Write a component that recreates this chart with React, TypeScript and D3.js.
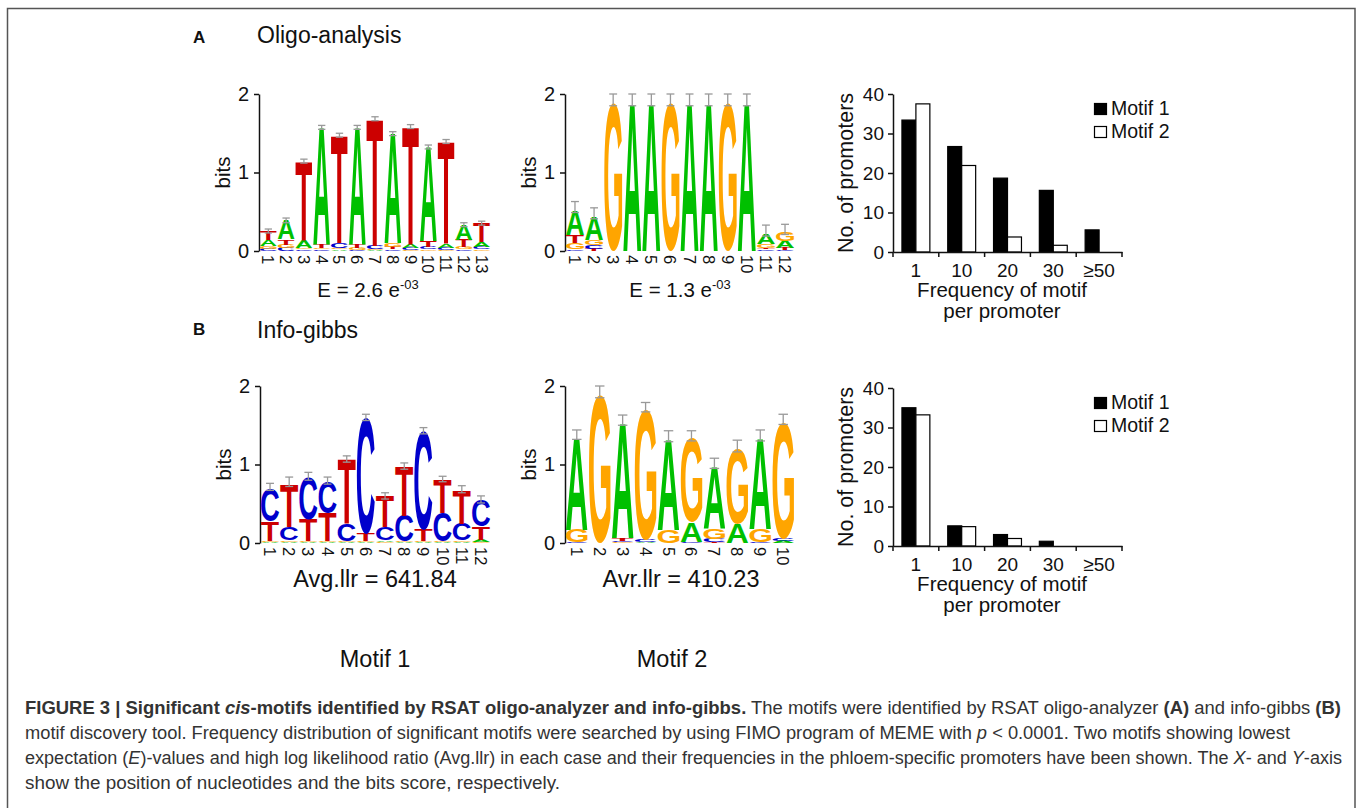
import React, { useEffect, useRef } from "react";
import * as d3 from "d3";

const FONT = "'Liberation Sans', Arial, Helvetica, sans-serif";
const BASES = ["A", "C", "G", "T"];
const baseColor: Record<string, string> = { A: "#00c000", C: "#0000cc", G: "#ffa500", T: "#cc0000" };

// A - oligo-analysis, motif 1 (bits per base and position)
const oligo1A = [0.08, 0.24, 0.10, 1.50, 0.02, 1.50, 0.01, 1.40, 0.04, 1.20, 0.05, 0.20, 0.07];
const oligo1C = [0.03, 0.04, 0.02, 0.02, 0.06, 0.01, 0.04, 0.02, 0.03, 0.03, 0.03, 0.02, 0.03];
const oligo1G = [0.03, 0.04, 0.02, 0.02, 0.02, 0.03, 0.02, 0.05, 0.01, 0.02, 0.01, 0.03, 0.02];
const oligo1T = [0.12, 0.07, 1.01, 0.04, 1.38, 0.04, 1.62, 0.03, 1.51, 0.08, 1.31, 0.09, 0.24];
const oligo1Err = [0.28, 0.42, 1.17, 1.60, 1.50, 1.60, 1.71, 1.52, 1.61, 1.35, 1.42, 0.36, 0.38];

// A - oligo-analysis, motif 2
const oligo2A = [0.32, 0.30, 0, 1.88, 1.88, 0, 1.88, 1.88, 0, 1.88, 0.13, 0.09];
const oligo2C = [0.02, 0.05, 0, 0, 0, 0, 0, 0, 0, 0, 0.02, 0.01];
const oligo2G = [0.08, 0.06, 1.88, 0, 0, 1.88, 0, 0, 1.88, 0, 0.05, 0.11];
const oligo2T = [0.10, 0.03, 0, 0, 0, 0, 0, 0, 0, 0, 0.02, 0.03];
const oligo2Err = [0.63, 0.55, 2.0, 2.0, 2.0, 2.0, 2.0, 2.0, 2.0, 2.0, 0.33, 0.34];

// B - info-gibbs, motif 1
const gibbs1A = [0.01, 0.01, 0.01, 0.01, 0.01, 0.01, 0.02, 0.01, 0.01, 0.01, 0.01, 0.03];
const gibbs1C = [0.42, 0.17, 0.53, 0.40, 0.22, 1.47, 0.17, 0.33, 1.26, 0.36, 0.21, 0.33];
const gibbs1G = [0.02, 0.02, 0.01, 0.01, 0.01, 0.01, 0.01, 0.01, 0.01, 0.01, 0.02, 0.01];
const gibbs1T = [0.25, 0.55, 0.28, 0.36, 0.82, 0.10, 0.39, 0.62, 0.14, 0.43, 0.43, 0.17];
const gibbs1Err = [0.76, 0.84, 0.90, 0.84, 1.11, 1.64, 0.64, 1.02, 1.47, 0.85, 0.73, 0.60];

// B - info-gibbs, motif 2
const gibbs2A = [1.18, 0, 1.47, 0.01, 1.16, 0.25, 0.80, 0.24, 1.15, 0.03];
const gibbs2C = [0.01, 0, 0.02, 0.03, 0, 0.01, 0.04, 0, 0.01, 0.03];
const gibbs2G = [0.16, 1.88, 0.01, 1.66, 0.16, 1.07, 0.13, 0.95, 0.17, 1.48];
const gibbs2T = [0, 0, 0.03, 0, 0, 0, 0.01, 0, 0, 0];
const gibbs2Err = [1.44, 2.0, 1.63, 1.79, 1.43, 1.43, 1.08, 1.31, 1.44, 1.64];

// frequency of motif per promoter
const freqCategories = ["1", "10", "20", "30", "≥50"];
const seriesNames = ["Motif 1", "Motif 2"];
const oligoMotif1 = [33.4, 26.7, 18.7, 15.6, 5.6];
const oligoMotif2 = [37.5, 21.9, 3.8, 1.7, 0];
const gibbsMotif1 = [35.0, 5.1, 2.9, 1.2, 0];
const gibbsMotif2 = [33.2, 4.9, 1.9, 0, 0];

type Sel = d3.Selection<SVGSVGElement, unknown, null, undefined>;
type Box = { l: number; r: number; a: number; d: number };

function measureGlyphs(): Record<string, Box> {
  const ctx = document.createElement("canvas").getContext("2d")!;
  ctx.font = `bold 100px ${FONT}`;
  const out: Record<string, Box> = {};
  BASES.forEach(b => {
    const m = ctx.measureText(b);
    out[b] = { l: m.actualBoundingBoxLeft, r: m.actualBoundingBoxRight, a: m.actualBoundingBoxAscent, d: m.actualBoundingBoxDescent };
  });
  return out;
}

function drawLogo(svg: Sel, glyph: Record<string, Box>, left: number, right: number, top: number, bottom: number,
  cols: Record<string, number[]>, err: number[]) {
  const n = err.length;
  const x = d3.scaleBand<number>().domain(d3.range(1, n + 1)).range([left + 1, right]).paddingInner(0.06);
  const y = d3.scaleLinear().domain([0, 2]).range([bottom, top]);
  const g = svg.append("g");

  const ax = g.append("g").attr("transform", `translate(${left},0)`)
    .call(d3.axisLeft(y).tickValues([0, 1, 2]).tickFormat(d3.format("d")).tickSize(5).tickPadding(5).tickSizeOuter(0));
  ax.attr("font-family", FONT).attr("font-size", 20);
  ax.selectAll("path,line").attr("stroke", "#111").attr("stroke-width", 1.5);
  ax.selectAll("text").attr("fill", "#111");

  g.append("text").attr("transform", `translate(${left - 37},${(top + bottom) / 2}) rotate(-90)`)
    .attr("text-anchor", "middle").attr("dominant-baseline", "central")
    .attr("font-family", FONT).attr("font-size", 20.5).attr("fill", "#111").text("bits");

  d3.range(n).forEach(i => {
    const stack = BASES.map(b => ({ b, v: cols[b][i] })).filter(s => s.v > 0).sort((a, b) => a.v - b.v);
    const x0 = x(i + 1)!;
    const bw = x.bandwidth();
    let acc = 0;
    stack.forEach(s => {
      const y0 = y(acc);
      const y1 = y(acc + s.v);
      acc += s.v;
      const gb = glyph[s.b];
      const sx = bw / (gb.l + gb.r);
      const sy = (y0 - y1) / (gb.a + gb.d);
      g.append("text").text(s.b)
        .attr("font-family", FONT).attr("font-weight", "bold").attr("font-size", 100)
        .attr("fill", baseColor[s.b])
        .attr("transform", `translate(${x0 + gb.l * sx},${y0 - gb.d * sy}) scale(${sx},${sy})`);
    });
    // error bar
    const cx = x0 + bw / 2;
    const hw = bw * 0.22;
    const eg = g.append("g").attr("stroke", "#999").attr("stroke-width", 1.3);
    const lo = y(acc - 0.03), hi = y(err[i]);
    eg.append("line").attr("x1", cx).attr("x2", cx).attr("y1", lo).attr("y2", hi);
    eg.append("line").attr("x1", cx - hw).attr("x2", cx + hw).attr("y1", lo).attr("y2", lo);
    eg.append("line").attr("x1", cx - hw).attr("x2", cx + hw).attr("y1", hi).attr("y2", hi);

    g.append("text").attr("transform", `translate(${cx},${bottom + 4}) rotate(90)`)
      .attr("dominant-baseline", "central").attr("font-family", FONT).attr("font-size", 16.5)
      .attr("fill", "#111").text(i + 1);
  });
}

function drawFreq(svg: Sel, top: number, m1: number[], m2: number[]) {
  const left = 893, right = 1122, bottom = top + 158;
  const x = d3.scaleBand<string>().domain(freqCategories).range([left, right]);
  const xs = d3.scaleBand<string>().domain(seriesNames).range([0, x.bandwidth()]).paddingOuter(0.64);
  const y = d3.scaleLinear().domain([0, 40]).range([bottom, top]);
  const g = svg.append("g");
  const rows = freqCategories.map((c, i) => ({ c, v: [m1[i], m2[i]] }));

  rows.forEach(r => {
    seriesNames.forEach((s, k) => {
      if (r.v[k] <= 0) return;
      g.append("rect")
        .attr("x", x(r.c)! + xs(s)!)
        .attr("y", y(r.v[k]))
        .attr("width", xs.bandwidth())
        .attr("height", bottom - y(r.v[k]))
        .attr("fill", k === 0 ? "#000" : "#fff")
        .attr("stroke", "#000").attr("stroke-width", 1.2);
    });
  });

  const ay = g.append("g").attr("transform", `translate(${left},0)`)
    .call(d3.axisLeft(y).tickValues([0, 10, 20, 30, 40]).tickSize(5).tickPadding(4).tickSizeOuter(0));
  ay.attr("font-family", FONT).attr("font-size", 19);
  ay.selectAll("path,line").attr("stroke", "#111").attr("stroke-width", 1.5);
  ay.selectAll("text").attr("fill", "#111");

  const axx = g.append("g").attr("transform", `translate(0,${bottom})`)
    .call(d3.axisBottom(x).tickSize(0).tickPadding(12).tickSizeOuter(0));
  axx.attr("font-family", FONT).attr("font-size", 19);
  axx.selectAll("path").attr("stroke", "#111").attr("stroke-width", 1.5);
  axx.selectAll("text").attr("fill", "#111");
  const bounds = freqCategories.map(c => x(c)!).concat([right]);
  g.selectAll(null).data(bounds).enter().append("line")
    .attr("x1", d => d).attr("x2", d => d).attr("y1", bottom).attr("y2", bottom + 5)
    .attr("stroke", "#111").attr("stroke-width", 1.5);

  g.append("text").attr("transform", `translate(846,${(top + bottom) / 2}) rotate(-90)`)
    .attr("text-anchor", "middle").attr("dominant-baseline", "central")
    .attr("font-family", FONT).attr("font-size", 21.5).attr("fill", "#111").text("No. of promoters");
  g.append("text").attr("x", 1002).attr("y", bottom + 45).attr("text-anchor", "middle")
    .attr("font-family", FONT).attr("font-size", 20.5).attr("fill", "#111").text("Frequency of motif");
  g.append("text").attr("x", 1002).attr("y", bottom + 66).attr("text-anchor", "middle")
    .attr("font-family", FONT).attr("font-size", 20.5).attr("fill", "#111").text("per promoter");

  seriesNames.forEach((s, k) => {
    g.append("rect").attr("x", 1094.5).attr("y", top + 9.5 + k * 23).attr("width", 12).attr("height", 11)
      .attr("fill", k === 0 ? "#000" : "#fff").attr("stroke", "#000").attr("stroke-width", 1.2);
    g.append("text").attr("x", 1111).attr("y", top + 21 + k * 23)
      .attr("font-family", FONT).attr("font-size", 19.5).attr("fill", "#111").text(s);
  });
}

export default function App() {
  const ref = useRef<SVGSVGElement>(null);

  useEffect(() => {
    const svg = d3.select(ref.current!) as Sel;
    svg.selectAll("*").remove();
    const glyph = measureGlyphs();

    svg.append("rect").attr("x", 7.5).attr("y", 8.5).attr("width", 1347.5).attr("height", 820)
      .attr("fill", "none").attr("stroke", "#555").attr("stroke-width", 1.5);

    const txt = (x: number, y: number, s: string, size: number, anchor = "start", weight = "normal") =>
      svg.append("text").attr("x", x).attr("y", y).attr("text-anchor", anchor).attr("font-weight", weight)
        .attr("font-family", FONT).attr("font-size", size).attr("fill", "#111").text(s);

    txt(193, 43, "A", 17, "start", "bold");
    txt(257, 43, "Oligo-analysis", 23);
    txt(193, 335, "B", 17, "start", "bold");
    txt(257, 338, "Info-gibbs", 23);

    drawLogo(svg, glyph, 259, 490, 94, 251, { A: oligo1A, C: oligo1C, G: oligo1G, T: oligo1T }, oligo1Err);
    drawLogo(svg, glyph, 565, 794, 94, 251, { A: oligo2A, C: oligo2C, G: oligo2G, T: oligo2T }, oligo2Err);
    drawLogo(svg, glyph, 260, 490, 386, 543, { A: gibbs1A, C: gibbs1C, G: gibbs1G, T: gibbs1T }, gibbs1Err);
    drawLogo(svg, glyph, 565, 794, 386, 543, { A: gibbs2A, C: gibbs2C, G: gibbs2G, T: gibbs2T }, gibbs2Err);

    const eText = (x: number, base: string) => {
      const t = txt(x, 297, "", 20.5, "middle");
      t.append("tspan").text(base);
      t.append("tspan").attr("dy", -8).attr("font-size", 13).text("-03");
    };
    eText(368, "E = 2.6 e");
    eText(680, "E = 1.3 e");
    txt(375, 587, "Avg.llr = 641.84", 23.5, "middle");
    txt(681, 587, "Avr.llr = 410.23", 23.5, "middle");
    txt(375, 667, "Motif 1", 23.5, "middle");
    txt(672, 667, "Motif 2", 23.5, "middle");

    drawFreq(svg, 94, oligoMotif1, oligoMotif2);
    drawFreq(svg, 388, gibbsMotif1, gibbsMotif2);

    // figure legend text, each line fitted to the width it has in the reference
    const lines: [string, string][][] = [
      [["b", "FIGURE 3 | Significant "], ["bi", "cis"], ["b", "-motifs identified by RSAT oligo-analyzer and info-gibbs."],
       ["n", " The motifs were identified by RSAT oligo-analyzer "], ["b", "(A)"], ["n", " and info-gibbs "], ["b", "(B)"]],
      [["n", "motif discovery tool. Frequency distribution of significant motifs were searched by using FIMO program of MEME with "],
       ["i", "p"], ["n", " < 0.0001. Two motifs showing lowest"]],
      [["n", "expectation ("], ["i", "E"], ["n", ")-values and high log likelihood ratio (Avg.llr) in each case and their frequencies in the phloem-specific promoters have been shown. The "],
       ["i", "X"], ["n", "- and "], ["i", "Y"], ["n", "-axis"]],
      [["n", "show the position of nucleotides and the bits score, respectively."]],
    ];
    const lineWidths = [1316, 1265, 1317, 535];
    lines.forEach((parts, li) => {
      const t = svg.append("text").attr("x", 25).attr("y", 714 + li * 25)
        .attr("font-family", FONT).attr("font-size", 17.5).attr("fill", "#333")
        .attr("textLength", lineWidths[li]).attr("lengthAdjust", "spacingAndGlyphs");
      parts.forEach(([k, s]) => {
        t.append("tspan").attr("font-weight", k.includes("b") ? "bold" : "normal")
          .attr("font-style", k.includes("i") ? "italic" : "normal").text(s);
      });
    });
  }, []);

  return (
    <svg ref={ref} width={1358} height={808}
      style={{ position: "absolute", left: 0, top: 0, display: "block", background: "#fff" }} />
  );
}
